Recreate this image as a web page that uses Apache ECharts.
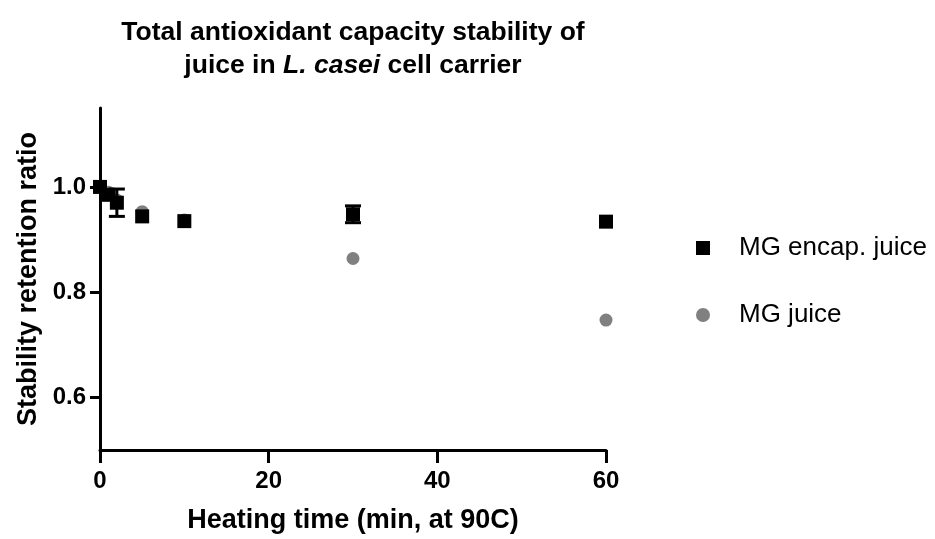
<!DOCTYPE html>
<html>
<head>
<meta charset="utf-8">
<script src="https://cdn.jsdelivr.net/npm/echarts@6/dist/echarts.min.js"></script>
<style>html,body{margin:0;padding:0;background:#fff}#c{width:935px;height:539px}</style>
</head>
<body>
<div id="c"></div>
<script>
// Data
const timeEncap = [0, 1, 2, 5, 10, 30, 60];
const encapValues = [1.0, 0.985, 0.97, 0.944, 0.935, 0.948, 0.934];
const encapErrLow = [1.0, 0.985, 0.944, 0.944, 0.935, 0.932, 0.934];
const encapErrHigh = [1.0, 0.985, 0.996, 0.944, 0.935, 0.964, 0.934];
const timeJuice = [0, 1, 2, 5, 10, 30, 60];
const juiceValues = [1.0, 0.99, 0.975, 0.953, 0.937, 0.864, 0.747];
const xTicks = [0, 20, 40, 60];
const yTicks = [0.6, 0.8, 1.0];
const seriesNames = ['MG encap. juice', 'MG juice'];

const font = "'Liberation Sans', Arial, sans-serif";

const chart = echarts.init(document.getElementById('c'));
const errData = timeEncap.map((t, i) => [t, encapErrLow[i], encapErrHigh[i]]);

chart.setOption({
  animation: false,
  backgroundColor: '#fff',
  title: {
    text: 'Total antioxidant capacity stability of\n{n|juice in }{i|L. casei}{n| cell carrier}',
    left: 348,
    top: 11,
    textAlign: 'center',
    textStyle: {
      fontFamily: font, fontSize: 26.5, fontWeight: 'bold', color: '#000', lineHeight: 33,
      rich: {
        n: {fontFamily: font, fontSize: 26.5, fontWeight: 'bold', color: '#000', lineHeight: 33},
        i: {fontFamily: font, fontSize: 26.5, fontWeight: 'bold', fontStyle: 'italic', color: '#000', lineHeight: 33}
      }
    }
  },
  legend: {
    orient: 'vertical',
    left: 691,
    top: 230,
    itemWidth: 14,
    itemHeight: 14,
    itemGap: 41,
    data: [
      {name: seriesNames[0], icon: 'rect'},
      {name: seriesNames[1], icon: 'circle'}
    ],
    itemStyle: {opacity: 1},
    textStyle: {fontFamily: font, fontSize: 26, color: '#000', lineHeight: 26, padding: [0, 0, 0, 24]}
  },
  grid: {left: 100, right: 329, top: 108, bottom: 85, containLabel: false},
  xAxis: {
    type: 'value',
    min: 0, max: 60, interval: 20,
    name: 'Heating time (min, at 90C)',
    nameLocation: 'middle',
    nameGap: 57,
    nameTextStyle: {fontFamily: font, fontSize: 27, fontWeight: 'bold', color: '#000'},
    axisLine: {show: true, lineStyle: {color: '#000', width: 3}},
    axisTick: {show: true, inside: false, length: 13, lineStyle: {color: '#000', width: 3}},
    axisLabel: {fontFamily: font, fontSize: 24, fontWeight: 'bold', color: '#000', margin: 19,
      customValues: xTicks},
    splitLine: {show: false}
  },
  yAxis: {
    type: 'value',
    min: 0.5, max: 1.15,
    name: 'Stability retention ratio',
    nameLocation: 'middle',
    nameGap: 57,
    nameTextStyle: {fontFamily: font, fontSize: 27, fontWeight: 'bold', color: '#000'},
    axisLine: {show: true, lineStyle: {color: '#000', width: 3}},
    axisTick: {show: true, inside: false, length: 10, customValues: yTicks, lineStyle: {color: '#000', width: 3}},
    axisLabel: {fontFamily: font, fontSize: 24, fontWeight: 'bold', color: '#000', margin: 14,
      customValues: yTicks, formatter: v => v.toFixed(1)},
    splitLine: {show: false}
  },
  series: [
    {
      name: seriesNames[1],
      type: 'scatter',
      symbol: 'circle',
      symbolSize: 13,
      itemStyle: {color: '#808080', opacity: 1},
      data: timeJuice.map((t, i) => [t, juiceValues[i]]),
      z: 2
    },
    {
      name: seriesNames[0] + ' error',
      type: 'custom',
      data: errData,
      z: 3,
      renderItem: function (params, api) {
        const x = api.value(0);
        const lo = api.coord([x, api.value(1)]);
        const hi = api.coord([x, api.value(2)]);
        if (Math.abs(lo[1] - hi[1]) < 1) return null;
        const w = 8;
        const st = {stroke: '#000', lineWidth: 3};
        return {
          type: 'group',
          children: [
            {type: 'line', shape: {x1: lo[0], y1: lo[1], x2: hi[0], y2: hi[1]}, style: st},
            {type: 'line', shape: {x1: lo[0] - w, y1: lo[1], x2: lo[0] + w, y2: lo[1]}, style: st},
            {type: 'line', shape: {x1: hi[0] - w, y1: hi[1], x2: hi[0] + w, y2: hi[1]}, style: st}
          ]
        };
      }
    },
    {
      name: seriesNames[0],
      type: 'scatter',
      symbol: 'rect',
      symbolSize: 14,
      itemStyle: {color: '#000', opacity: 1},
      data: timeEncap.map((t, i) => [t, encapValues[i]]),
      z: 4
    }
  ]
});
</script>
</body>
</html>
